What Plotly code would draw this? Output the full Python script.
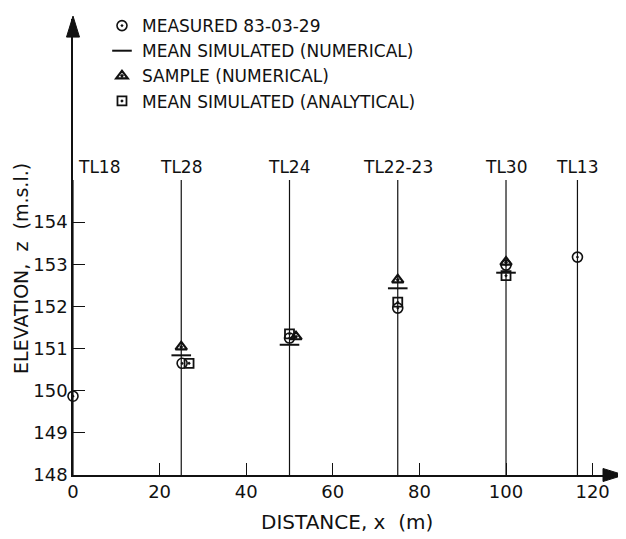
import plotly.graph_objects as go

# ---- data ----
boreholes = ["TL18", "TL28", "TL24", "TL22-23", "TL30", "TL13"]
bore_x = [0, 25, 50, 75, 100, 116.5]
bore_top = 155.0

measured_x = [0, 25.2, 50, 75, 100, 116.5]
measured_z = [149.87, 150.65, 151.25, 151.96, 152.98, 153.17]

mean_num_x = [25, 50, 75, 100]
mean_num_z = [150.84, 151.09, 152.43, 152.80]

sample_x = [25, 51.5, 75, 100]
sample_z = [151.04, 151.28, 152.63, 153.05]

mean_ana_x = [26.8, 50, 75, 100]
mean_ana_z = [150.65, 151.35, 152.10, 152.73]

x_ticks = [0, 20, 40, 60, 80, 100, 120]
y_ticks = [148, 149, 150, 151, 152, 153, 154]

FONT = "DejaVu Sans"
BLACK = "#111111"

fig = go.Figure()

# vertical borehole lines
for bx in bore_x:
    fig.add_shape(type="line", x0=bx, x1=bx, y0=148, y1=bore_top,
                  xref="x", yref="y", line=dict(color=BLACK, width=1.2), layer="below")

fig.add_trace(go.Scatter(
    x=measured_x, y=measured_z, mode="markers", name="MEASURED 83-03-29",
    legendgroup="a",
    marker=dict(symbol="circle-open-dot", size=10, color=BLACK, line=dict(color=BLACK, width=1.6)),
    cliponaxis=False))
fig.add_trace(go.Scatter(
    x=mean_num_x, y=mean_num_z, mode="markers", name="MEAN SIMULATED (NUMERICAL)",
    legendgroup="b",
    marker=dict(symbol="line-ew", size=14, color=BLACK, line=dict(color=BLACK, width=2)),
    cliponaxis=False))
fig.add_trace(go.Scatter(
    x=sample_x, y=sample_z, mode="markers", name="SAMPLE (NUMERICAL)",
    legendgroup="c",
    marker=dict(symbol="triangle-up-open-dot", size=10, color=BLACK, line=dict(color=BLACK, width=2.2)),
    cliponaxis=False))
fig.add_trace(go.Scatter(
    x=mean_ana_x, y=mean_ana_z, mode="markers", name="MEAN SIMULATED (ANALYTICAL)",
    legendgroup="d",
    marker=dict(symbol="square-open-dot", size=9, color=BLACK, line=dict(color=BLACK, width=1.8)),
    cliponaxis=False))

# borehole labels
annotations = []
for name, bx in zip(boreholes, bore_x):
    if bx == 0:
        annotations.append(dict(x=bx, y=bore_top, xref="x", yref="y", text=name, showarrow=False,
                                xanchor="left", yanchor="bottom", xshift=3, yshift=1,
                                font=dict(family=FONT, size=17, color=BLACK)))
    else:
        annotations.append(dict(x=bx, y=bore_top, xref="x", yref="y", text=name, showarrow=False,
                                xanchor="center", yanchor="bottom", yshift=1,
                                font=dict(family=FONT, size=17, color=BLACK)))

annotations.append(dict(x=0.497, y=-0.1028, xref="paper", yref="paper", text="DISTANCE, x  (m)",
                        showarrow=False, xanchor="center", yanchor="middle",
                        font=dict(family=FONT, size=20, color=BLACK)))
annotations.append(dict(x=-0.0944, y=0.454, xref="paper", yref="paper", text="ELEVATION,  z  (m.s.l.)",
                        showarrow=False, xanchor="center", yanchor="middle", textangle=-90,
                        font=dict(family=FONT, size=19, color=BLACK)))

x_max = 127.25
y_max = 158.82

# axis arrows (paper-referenced so they are not clipped)
fig.add_shape(type="path", xref="paper", yref="paper", xsizemode="pixel", ysizemode="pixel",
              xanchor=0, yanchor=1.0064, path="M0,0 L-6.5,-21 L6.5,-21 Z",
              fillcolor=BLACK, line=dict(color=BLACK, width=1))
fig.add_shape(type="path", xref="paper", yref="paper", xsizemode="pixel", ysizemode="pixel",
              xanchor=1, yanchor=0, path="M0,0 L-21,6.5 L-21,-6.5 Z",
              fillcolor=BLACK, line=dict(color=BLACK, width=1))

fig.update_layout(
    width=626, height=539,
    margin=dict(l=65, r=10, t=0, b=72),
    paper_bgcolor="white", plot_bgcolor="white",
    font=dict(family=FONT, color=BLACK),
    showlegend=True,
    legend=dict(x=0.0526, y=1.024, xanchor="left", yanchor="top",
                font=dict(family=FONT, size=17, color=BLACK),
                bgcolor="rgba(0,0,0,0)", tracegroupgap=0, traceorder="grouped"),
    annotations=annotations,
    xaxis=dict(range=[0, x_max], tickvals=x_ticks, ticktext=[str(v) for v in x_ticks],
               ticks="inside", ticklen=12, tickwidth=1.4, tickcolor=BLACK,
               showline=True, linecolor=BLACK, linewidth=1.6, showgrid=False, zeroline=False,
               tickfont=dict(family=FONT, size=18, color=BLACK)),
    yaxis=dict(range=[148, y_max], tickvals=y_ticks, ticktext=[str(v) for v in y_ticks],
               ticks="inside", ticklen=12, tickwidth=1.4, tickcolor=BLACK,
               showline=True, linecolor=BLACK, linewidth=1.6, showgrid=False, zeroline=False,
               tickfont=dict(family=FONT, size=18, color=BLACK)),
)

fig.write_html("out.html")
